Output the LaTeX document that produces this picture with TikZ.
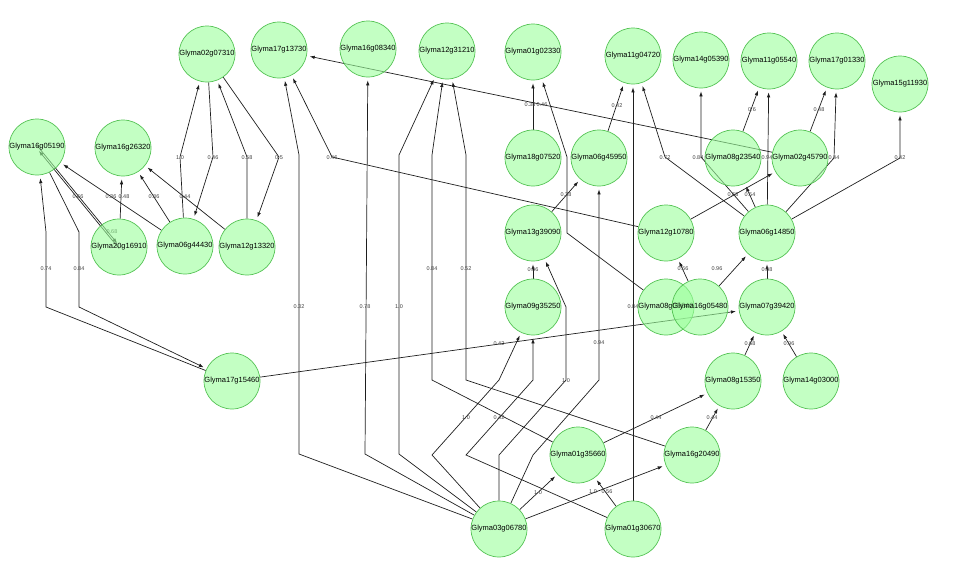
\documentclass[tikz,border=0pt]{standalone}
\usepackage{fontspec}
\setmainfont{Liberation Sans}
\usetikzlibrary{arrows.meta}
\pgfdeclarelayer{bg}
\pgfsetlayers{bg,main}
\definecolor{nodefill}{RGB}{155,255,155}
\definecolor{nodeborder}{RGB}{85,195,85}
\definecolor{edgecol}{RGB}{30,30,30}
\tikzset{
 gene/.style={circle, minimum size=56pt, inner sep=0pt, fill=nodefill, fill opacity=0.6, text opacity=1, draw=nodeborder, draw opacity=1, line width=0.7pt, font=\fontsize{7.5}{8}\selectfont},
 edge/.style={draw=edgecol, line width=0.7pt, -{Latex[length=5pt,width=3.5pt]}, shorten >=3pt},
 wt/.style={font=\fontsize{5.5}{5.5}\selectfont, text=black!75, inner sep=0pt},
}
\newcommand{\gn}[1]{\makebox[0pt]{#1}}
\begin{document}
\begin{tikzpicture}[x=1pt,y=-1pt]
\useasboundingbox (0,0) rectangle (956,587);
% nodes
\node[gene] (n16g05190) at (37,147) {\gn{Glyma16g05190}};
\node[gene] (n16g26320) at (123,148) {\gn{Glyma16g26320}};
\node[gene] (n20g16910) at (119,247) {\gn{Glyma20g16910}};
\node[gene] (n06g44430) at (185,246) {\gn{Glyma06g44430}};
\node[gene] (n12g13320) at (247,247) {\gn{Glyma12g13320}};
\node[gene] (n02g07310) at (207,54) {\gn{Glyma02g07310}};
\node[gene] (n17g13730) at (279,50) {\gn{Glyma17g13730}};
\node[gene] (n16g08340) at (368,49) {\gn{Glyma16g08340}};
\node[gene] (n12g31210) at (447,51) {\gn{Glyma12g31210}};
\node[gene] (n01g02330) at (533,52) {\gn{Glyma01g02330}};
\node[gene] (n11g04720) at (633,56) {\gn{Glyma11g04720}};
\node[gene] (n14g05390) at (701,60) {\gn{Glyma14g05390}};
\node[gene] (n11g05540) at (769,61) {\gn{Glyma11g05540}};
\node[gene] (n17g01330) at (837,61) {\gn{Glyma17g01330}};
\node[gene] (n15g11930) at (900,84) {\gn{Glyma15g11930}};
\node[gene] (n18g07520) at (533,158) {\gn{Glyma18g07520}};
\node[gene] (n06g45950) at (599,158) {\gn{Glyma06g45950}};
\node[gene] (n08g23540) at (733,158) {\gn{Glyma08g23540}};
\node[gene] (n02g45790) at (800,158) {\gn{Glyma02g45790}};
\node[gene] (n13g39090) at (533,233) {\gn{Glyma13g39090}};
\node[gene] (n12g10780) at (666,233) {\gn{Glyma12g10780}};
\node[gene] (n06g14850) at (767,233) {\gn{Glyma06g14850}};
\node[gene] (n09g35250) at (533,307) {\gn{Glyma09g35250}};
\node[gene] (n08gX) at (666,307) {\gn{Glyma08g05640}};
\node[gene] (n16g05480) at (700,307) {\gn{Glyma16g05480}};
\node[gene] (n07g39420) at (767,307) {\gn{Glyma07g39420}};
\node[gene] (n08g15350) at (733,381) {\gn{Glyma08g15350}};
\node[gene] (n14g03000) at (811,381) {\gn{Glyma14g03000}};
\node[gene] (n17g15460) at (232,381) {\gn{Glyma17g15460}};
\node[gene] (n01g35660) at (578,455) {\gn{Glyma01g35660}};
\node[gene] (n16g20490) at (692,455) {\gn{Glyma16g20490}};
\node[gene] (n03g06780) at (499,529) {\gn{Glyma03g06780}};
\node[gene] (n01g30670) at (633,529) {\gn{Glyma01g30670}};
\begin{pgfonlayer}{bg}
% left cluster
\draw[edge] (n17g15460) -- (46,307) -- (46,232) -- (n16g05190);
\draw[edge] (n16g05190) -- (79,232) -- (79,307) -- (n17g15460);
\draw[edge] (n17g15460) -- (n07g39420);
\draw[edge] (n06g44430) -- (180,157) -- (n02g07310);
\draw[edge] (n02g07310) -- (213,157) -- (n06g44430);
\draw[edge] (n12g13320) -- (247,157) -- (n02g07310);
\draw[edge] (n02g07310) -- (279,157) -- (n12g13320);
\draw[edge] (n20g16910) -- (n16g26320);
\draw[edge] (n06g44430) -- (n16g26320);
\draw[edge] (n12g13320) -- (n16g26320);
\draw[edge] (n06g44430) -- (n16g05190);
\draw[edge] ([yshift=-1.5pt]n20g16910.center) -- ([yshift=-1.5pt]n16g05190.center);
\draw[edge] ([yshift=1.5pt]n16g05190.center) -- ([yshift=1.5pt]n20g16910.center);
% from Glyma03g06780
\draw[edge] (n03g06780) -- (299,454) -- (299,155) -- (n17g13730);
\draw[edge] (n03g06780) -- (365,454) -- (n16g08340);
\draw[edge] (n03g06780) -- (399,454) -- (399,155) -- (n12g31210);
\draw[edge] (n03g06780) -- (432,455) -- (499,380) -- (n09g35250);
\draw[edge] (n03g06780) -- (499,455) -- (566,380) -- (566,307) -- (n13g39090);
\draw[edge] (n03g06780) -- (533,455) -- (599,380) -- (n06g45950);
\draw[edge] (n03g06780) -- (n01g35660);
\draw[edge] (n03g06780) -- (n16g20490);
% from Glyma01g30670
\draw[edge] (n01g30670) -- (n01g35660);
\draw[edge] (n01g30670) -- (n11g04720);
\draw[edge] (n01g30670) -- (466,455) -- (533,380) -- (n09g35250);
% to Glyma12g31210
\draw[edge] (n01g35660) -- (432,380) -- (432,155) -- (n12g31210);
\draw[edge] (n16g20490) -- (466,380) -- (466,155) -- (n12g31210);
% middle
\draw[edge] (n18g07520) -- (n01g02330);
\draw[edge] (n02g45790) -- (n17g13730);
\draw[edge] (n06g45950) -- (n11g04720);
\draw[edge] (n13g39090) -- (n06g45950);
\draw[edge] (n09g35250) -- (n13g39090);
\draw[edge] (n08gX) -- (567,233) -- (567,157) -- (n01g02330);
\draw[edge] (n12g10780) -- (332,157) -- (n17g13730);
\draw[edge] (n12g10780) -- (n02g45790);
% from Glyma06g14850
\draw[edge] (n06g14850) -- (n08g23540);
\draw[edge] (n06g14850) -- (665,157) -- (n11g04720);
\draw[edge] (n06g14850) -- (701,157) -- (n14g05390);
\draw[edge] (n06g14850) -- (n11g05540);
\draw[edge] (n06g14850) -- (834,158) -- (n17g01330);
\draw[edge] (n06g14850) -- (900,158) -- (n15g11930);
\draw[edge] (n08g23540) -- (n11g05540);
\draw[edge] (n02g45790) -- (n17g01330);
\draw[edge] (n16g05480) -- (n06g14850);
\draw[edge] (n16g05480) -- (n12g10780);
\draw[edge] (n07g39420) -- (n06g14850);
\draw[edge] (n08g15350) -- (n07g39420);
\draw[edge] (n14g03000) -- (n07g39420);
\draw[edge] (n01g35660) -- (n08g15350);
\draw[edge] (n16g20490) -- (n08g15350);
% weights
\node[wt] (w1) at (46,269) {0.74};
\node[wt] (w2) at (79,269) {0.84};
\node[wt] (w3) at (499,344) {0.42};
\node[wt] (w4) at (180,158) {1.0};
\node[wt] (w5) at (213,158) {0.46};
\node[wt] (w6) at (247,158) {0.58};
\node[wt] (w7) at (279,158) {0.5};
\node[wt] (w8) at (124,197) {0.48};
\node[wt] (w9) at (154,197) {0.86};
\node[wt] (w10) at (185,197) {0.44};
\node[wt] (w11) at (111,197) {0.36};
\node[wt] (w12) at (78,197) {0.66};
\node[wt] (w13) at (112,232) {0.68};
\node[wt] (w14) at (299,307) {0.32};
\node[wt] (w15) at (365,307) {0.78};
\node[wt] (w16) at (399,307) {1.0};
\node[wt] (w17) at (432,269) {0.84};
\node[wt] (w18) at (466,269) {0.52};
\node[wt] (w19) at (466,418) {1.0};
\node[wt] (w20) at (499,418) {0.42};
\node[wt] (w21) at (566,381) {1.0};
\node[wt] (w22) at (599,343) {0.94};
\node[wt] (w23) at (538,493) {1.0};
\node[wt] (w24) at (593,492) {1.0};
\node[wt] (w25) at (607,492) {0.56};
\node[wt] (w26) at (633,307) {0.84};
\node[wt] (w27) at (530,105) {0.38};
\node[wt] (w28) at (542,105) {0.46};
\node[wt] (w29) at (617,106) {0.42};
\node[wt] (w30) at (566,195) {0.38};
\node[wt] (w31) at (533,270) {0.56};
\node[wt] (w32) at (332,158) {0.46};
\node[wt] (w33) at (733,195) {0.68};
\node[wt] (w34) at (750,195) {0.54};
\node[wt] (w35) at (665,158) {0.72};
\node[wt] (w36) at (698,158) {0.84};
\node[wt] (w37) at (767,158) {0.94};
\node[wt] (w38) at (834,158) {0.44};
\node[wt] (w39) at (900,158) {0.42};
\node[wt] (w40) at (752,110) {0.6};
\node[wt] (w41) at (819,110) {0.48};
\node[wt] (w42) at (717,269) {0.96};
\node[wt] (w43) at (683,269) {0.66};
\node[wt] (w44) at (767,270) {0.58};
\node[wt] (w45) at (750,344) {0.68};
\node[wt] (w46) at (789,344) {0.96};
\node[wt] (w47) at (656,418) {0.44};
\node[wt] (w48) at (712,418) {0.44};
\end{pgfonlayer}
\end{tikzpicture}
\end{document}
